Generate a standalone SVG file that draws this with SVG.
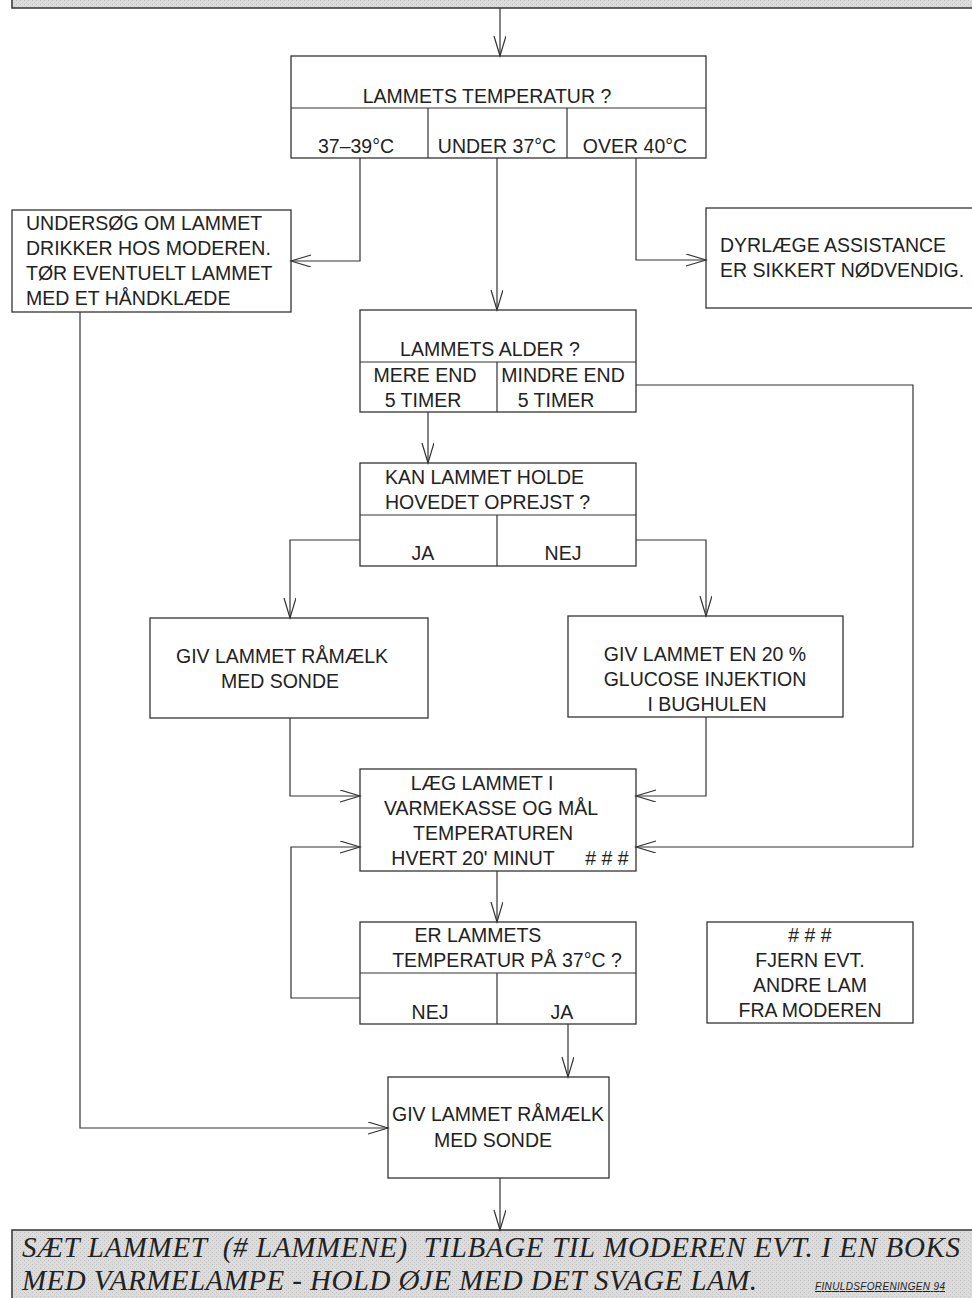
<svg xmlns="http://www.w3.org/2000/svg" width="972" height="1298" viewBox="0 0 972 1298">
<defs>
<marker id="arr" markerUnits="userSpaceOnUse" markerWidth="24" markerHeight="14" refX="22" refY="6" orient="auto">
<path d="M2,0 L22,6 L2,12" fill="none" stroke="#333" stroke-width="1.2"/>
</marker>
<pattern id="grey" width="4" height="4" patternUnits="userSpaceOnUse">
<rect width="4" height="4" fill="#dcdcdc"/>
<rect width="1" height="1" fill="#bdbdbd"/>
<rect x="2" y="2" width="1" height="1" fill="#c6c6c6"/>
</pattern>
</defs>
<style>
.box{fill:#fff;stroke:#333;stroke-width:1.3}
.band{fill:url(#grey);stroke:#333;stroke-width:1.5}
.div{stroke:#333;stroke-width:1.2;fill:none}
.t{font-family:"Liberation Sans",Arial,sans-serif;font-size:19.5px;fill:#222}
.c{text-anchor:middle}
.it{font-family:"Liberation Serif","Times New Roman",serif;font-style:italic;font-size:29px;fill:#222;white-space:pre}
.con{fill:none;stroke:#333;stroke-width:1.2}
</style>
<rect width="972" height="1298" fill="#fff"/>

<g id="top-band">
<rect class="band" x="12" y="-12" width="972" height="20"/>
</g>

<g id="n-temp">
<rect class="box" x="291" y="56" width="415" height="102"/>
<line class="div" x1="291" y1="108" x2="706" y2="108"/>
<line class="div" x1="428" y1="108" x2="428" y2="158"/>
<line class="div" x1="567" y1="108" x2="567" y2="158"/>
<text class="t c" x="487" y="103">LAMMETS TEMPERATUR ?</text>
<text class="t c" x="356" y="153">37–39°C</text>
<text class="t c" x="497" y="153">UNDER 37°C</text>
<text class="t c" x="635" y="153">OVER 40°C</text>
</g>

<g id="n-undersoeg">
<rect class="box" x="12" y="210" width="279" height="102"/>
<text class="t" x="26" y="230">UNDERSØG OM LAMMET</text>
<text class="t" x="26" y="255">DRIKKER HOS MODEREN.</text>
<text class="t" x="26" y="280">TØR EVENTUELT LAMMET</text>
<text class="t" x="26" y="305">MED ET HÅNDKLÆDE</text>
</g>

<g id="n-dyrlaege">
<rect class="box" x="706" y="208" width="280" height="100"/>
<text class="t" x="720" y="252">DYRLÆGE ASSISTANCE</text>
<text class="t" x="720" y="277">ER SIKKERT NØDVENDIG.</text>
</g>

<g id="n-alder">
<rect class="box" x="360" y="310" width="276" height="102"/>
<line class="div" x1="360" y1="362" x2="636" y2="362"/>
<line class="div" x1="497" y1="362" x2="497" y2="412"/>
<text class="t c" x="490" y="356">LAMMETS ALDER ?</text>
<text class="t c" x="425" y="382">MERE END</text>
<text class="t c" x="423" y="407">5 TIMER</text>
<text class="t c" x="563" y="382">MINDRE END</text>
<text class="t c" x="556" y="407">5 TIMER</text>
</g>

<g id="n-kan">
<rect class="box" x="360" y="463" width="276" height="103"/>
<line class="div" x1="360" y1="515" x2="636" y2="515"/>
<line class="div" x1="497" y1="515" x2="497" y2="566"/>
<text class="t" x="385" y="484">KAN LAMMET HOLDE</text>
<text class="t" x="385" y="509">HOVEDET OPREJST ?</text>
<text class="t c" x="423" y="560">JA</text>
<text class="t c" x="563" y="560">NEJ</text>
</g>

<g id="n-raamaelk1">
<rect class="box" x="150" y="618" width="278" height="100"/>
<text class="t c" x="282" y="663">GIV LAMMET RÅMÆLK</text>
<text class="t c" x="280" y="688">MED SONDE</text>
</g>

<g id="n-glucose">
<rect class="box" x="568" y="616" width="275" height="101"/>
<text class="t c" x="705" y="661">GIV LAMMET EN 20 %</text>
<text class="t c" x="705" y="686">GLUCOSE INJEKTION</text>
<text class="t c" x="707" y="711">I BUGHULEN</text>
</g>

<g id="n-varmekasse">
<rect class="box" x="360" y="769" width="276" height="102"/>
<text class="t c" x="482" y="790">LÆG LAMMET I</text>
<text class="t c" x="491" y="815">VARMEKASSE OG MÅL</text>
<text class="t c" x="493" y="840">TEMPERATUREN</text>
<text class="t c" x="473" y="865">HVERT 20' MINUT</text>
<text class="t c" x="607" y="865">#  #  #</text>
</g>

<g id="n-er">
<rect class="box" x="360" y="922" width="276" height="102"/>
<line class="div" x1="360" y1="973" x2="636" y2="973"/>
<line class="div" x1="497" y1="973" x2="497" y2="1024"/>
<text class="t c" x="478" y="942">ER LAMMETS</text>
<text class="t c" x="507" y="967">TEMPERATUR PÅ 37°C ?</text>
<text class="t c" x="430" y="1019">NEJ</text>
<text class="t c" x="562" y="1019">JA</text>
</g>

<g id="n-fjern">
<rect class="box" x="707" y="922" width="206" height="101"/>
<text class="t c" x="810" y="942">#  #  #</text>
<text class="t c" x="810" y="967">FJERN EVT.</text>
<text class="t c" x="810" y="992">ANDRE LAM</text>
<text class="t c" x="810" y="1017">FRA MODEREN</text>
</g>

<g id="n-raamaelk2">
<rect class="box" x="388" y="1077" width="221" height="101"/>
<text class="t c" x="498" y="1121">GIV LAMMET RÅMÆLK</text>
<text class="t c" x="493" y="1147">MED SONDE</text>
</g>

<g id="bottom-band">
<rect class="band" x="12" y="1230" width="972" height="80"/>
<text class="it" x="22" y="1257" textLength="938">SÆT LAMMET  (# LAMMENE)  TILBAGE TIL MODEREN EVT. I EN BOKS</text>
<text class="it" x="22" y="1290" textLength="735">MED VARMELAMPE - HOLD ØJE MED DET SVAGE LAM.</text>
<text x="815" y="1290" font-family="Liberation Sans,Arial,sans-serif" font-size="10" font-style="italic" fill="#222" text-decoration="underline" textLength="130">FINULDSFORENINGEN 94</text>
</g>

<g id="connectors">
<path class="con" d="M500,8 V56" marker-end="url(#arr)"/>
<path class="con" d="M360,158 V261 H291" marker-end="url(#arr)"/>
<path class="con" d="M497,158 V310" marker-end="url(#arr)"/>
<path class="con" d="M636,158 V260 H706" marker-end="url(#arr)"/>
<path class="con" d="M428,412 V463" marker-end="url(#arr)"/>
<path class="con" d="M636,385 H913 V847 H636" marker-end="url(#arr)"/>
<path class="con" d="M360,540 H290 V618" marker-end="url(#arr)"/>
<path class="con" d="M636,540 H706 V616" marker-end="url(#arr)"/>
<path class="con" d="M290,718 V796 H360" marker-end="url(#arr)"/>
<path class="con" d="M706,717 V796 H636" marker-end="url(#arr)"/>
<path class="con" d="M497,871 V922" marker-end="url(#arr)"/>
<path class="con" d="M360,998 H291 V847 H360" marker-end="url(#arr)"/>
<path class="con" d="M568,1024 V1077" marker-end="url(#arr)"/>
<path class="con" d="M80,312 V1128 H388" marker-end="url(#arr)"/>
<path class="con" d="M500,1178 V1230" marker-end="url(#arr)"/>
</g>
</svg>
